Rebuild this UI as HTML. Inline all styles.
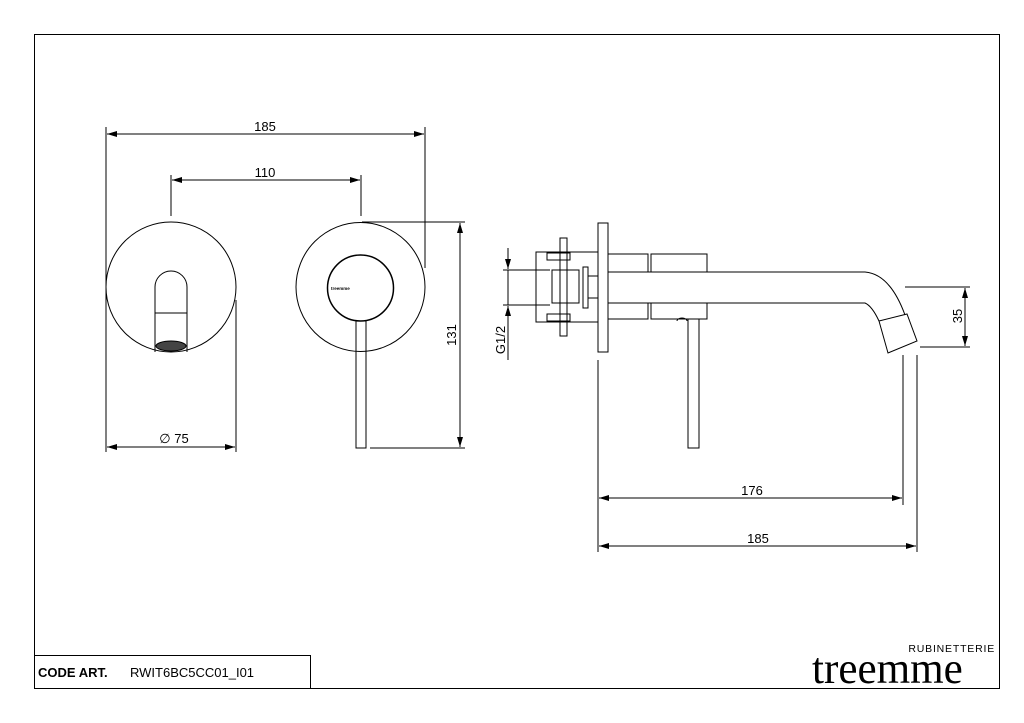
<!DOCTYPE html>
<html><head><meta charset="utf-8"><style>
html,body{margin:0;padding:0;background:#fff;}
svg{display:block;}
text{font-family:"Liberation Sans",sans-serif;fill:#000;}
</style></head><body>
<svg width="1024" height="723" viewBox="0 0 1024 723" xmlns="http://www.w3.org/2000/svg">
<defs>
<marker id="a" viewBox="0 0 10 6" refX="10" refY="3" markerWidth="10" markerHeight="6" orient="auto-start-reverse" markerUnits="userSpaceOnUse">
<path d="M0,0 L10,3 L0,6 z" fill="#000"/></marker>
</defs>
<rect x="0" y="0" width="1024" height="723" fill="#fff"/>
<g fill="none" stroke="#000" stroke-width="1">
<rect x="34.5" y="34.5" width="965" height="654"/>
<rect x="34.5" y="655.5" width="276" height="33"/>

<line x1="106" y1="127" x2="106" y2="452"/>
<line x1="425" y1="127" x2="425" y2="268"/>
<line x1="107" y1="134" x2="424" y2="134" marker-start="url(#a)" marker-end="url(#a)"/>
<line x1="171" y1="175" x2="171" y2="216"/>
<line x1="361" y1="175" x2="361" y2="216"/>
<line x1="172" y1="180" x2="360" y2="180" marker-start="url(#a)" marker-end="url(#a)"/>

<circle cx="171" cy="287" r="65"/>
<path d="M155,352 L155,287 A16,16 0 0 1 187,287 L187,352"/>
<line x1="155" y1="313" x2="187" y2="313"/>
<line x1="236" y1="300" x2="236" y2="452"/>
<line x1="107" y1="447" x2="235" y2="447" marker-start="url(#a)" marker-end="url(#a)"/>

<circle cx="360.5" cy="287" r="64.5"/>
<circle cx="360.5" cy="288" r="33" stroke-width="1.5"/>
<rect x="356" y="321" width="10" height="127"/>
<line x1="362" y1="222" x2="465" y2="222"/>
<line x1="370" y1="448" x2="465" y2="448"/>
<line x1="460" y1="223" x2="460" y2="447" marker-start="url(#a)" marker-end="url(#a)"/>

<rect x="598" y="223" width="10" height="129"/>
<rect x="608" y="254" width="40" height="18"/>
<rect x="651" y="254" width="56" height="18"/>
<rect x="608" y="303" width="40" height="16"/>
<rect x="651" y="303" width="56" height="16"/>
<path d="M608,272 L865,272 Q890,274 905,315"/>
<path d="M608,303 L865,303 Q872,306 879,321"/>
<path d="M879,321 L907,314 L917,341 L888,353 Z"/>
<rect x="688" y="319" width="11" height="129"/>
<path d="M677,321 A5,3 0 0 1 687,321"/>
<rect x="536" y="252" width="62" height="70"/>
<rect x="560" y="238" width="7" height="98"/>
<rect x="547" y="253" width="23" height="7"/>
<rect x="547" y="314" width="23" height="7"/>
<rect x="552" y="270" width="27" height="33"/>
<rect x="583" y="267" width="5" height="41"/>
<rect x="588" y="276" width="10" height="22"/>
<line x1="503" y1="270" x2="550" y2="270"/>
<line x1="503" y1="305" x2="550" y2="305"/>
<line x1="508" y1="248" x2="508" y2="269" marker-end="url(#a)"/>
<line x1="508" y1="306" x2="508" y2="360" marker-start="url(#a)"/>
<line x1="508" y1="270" x2="508" y2="305"/>
<line x1="905" y1="287" x2="970" y2="287"/>
<line x1="920" y1="347" x2="970" y2="347"/>
<line x1="965" y1="288" x2="965" y2="346" marker-start="url(#a)" marker-end="url(#a)"/>
<line x1="598" y1="360" x2="598" y2="552"/>
<line x1="903" y1="355" x2="903" y2="505"/>
<line x1="917" y1="355" x2="917" y2="552"/>
<line x1="599" y1="498" x2="902" y2="498" marker-start="url(#a)" marker-end="url(#a)"/>
<line x1="599" y1="546" x2="916" y2="546" marker-start="url(#a)" marker-end="url(#a)"/>
</g>
<ellipse cx="171" cy="346" rx="15" ry="5" fill="#444" stroke="#000"/>
<text x="331" y="290" font-size="4.5" font-weight="bold">treemme</text>

<g font-size="13">
<text x="265" y="131" text-anchor="middle">185</text>
<text x="265" y="177" text-anchor="middle">110</text>
<text x="174" y="443" text-anchor="middle">∅ 75</text>
<text x="752" y="495" text-anchor="middle">176</text>
<text x="758" y="543" text-anchor="middle">185</text>
<text transform="translate(456,335) rotate(-90)" text-anchor="middle">131</text>
<text transform="translate(505,340) rotate(-90)" text-anchor="middle">G1/2</text>
<text transform="translate(962,316) rotate(-90)" text-anchor="middle">35</text>
</g>
<text x="38" y="677" font-size="13" font-weight="bold">CODE ART.</text>
<text x="130" y="677" font-size="13">RWIT6BC5CC01_I01</text>
<text x="995" y="652" font-size="10.5" text-anchor="end" letter-spacing="0.8">RUBINETTERIE</text>
<text transform="translate(812,683) scale(0.98,1)" style="font-family:'Liberation Serif',serif" font-size="44">treemme</text>
</svg>
</body></html>
